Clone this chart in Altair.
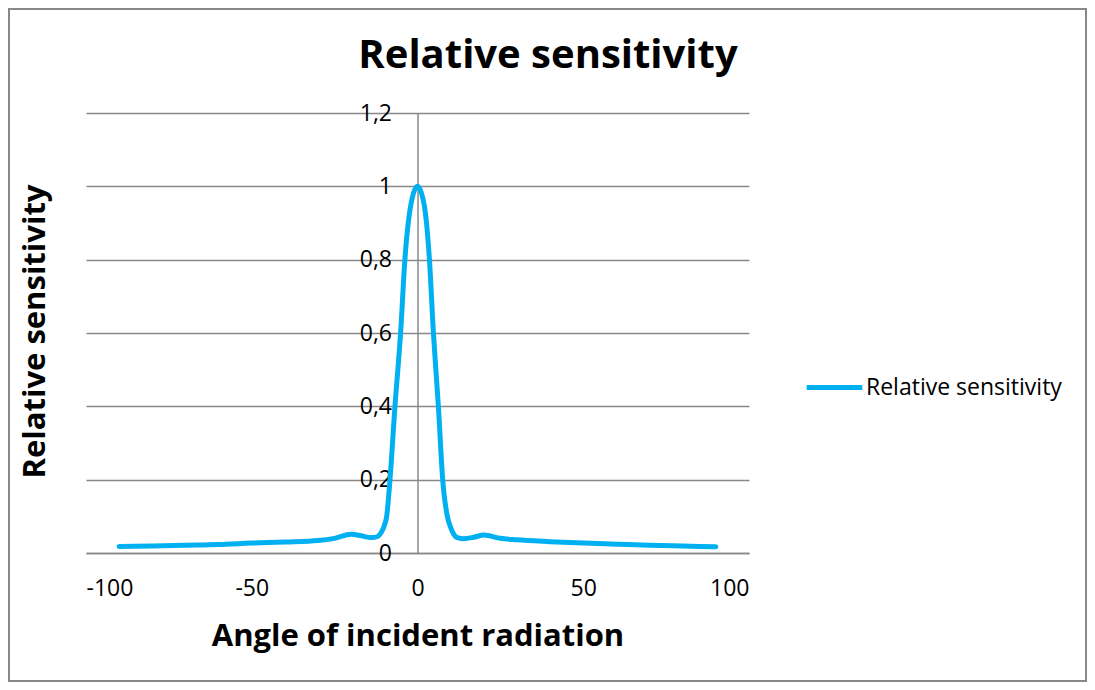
import altair as alt
import pandas as pd

angles = [-90, -80, -70, -60, -50, -40, -30, -25, -20, -17, -14, -12, -11, -10, -9.3, -8.3,
          -6.8, -5.1, -3.8, -2, 0, 2, 3.6, 4.8, 6.3, 7.6, 9.0, 10, 11, 12, 14, 17, 20, 25,
          30, 40, 50, 60, 70, 80, 90]
sensitivity = [0.018, 0.019, 0.021, 0.023, 0.027, 0.030, 0.034, 0.040, 0.051, 0.047, 0.042,
               0.045, 0.055, 0.075, 0.10, 0.20, 0.40, 0.60, 0.80, 0.95, 1.0, 0.95, 0.80, 0.60,
               0.40, 0.20, 0.10, 0.07, 0.05, 0.042, 0.039, 0.043, 0.049, 0.040, 0.036, 0.031,
               0.027, 0.024, 0.021, 0.019, 0.017]
series_name = "Relative sensitivity"
chart_title = "Relative sensitivity"
x_title = "Angle of incident radiation"
y_title = "Relative sensitivity"
x_ticks = [-100, -50, 0, 50, 100]
y_ticks = [0, 0.2, 0.4, 0.6, 0.8, 1.0, 1.2]

df = pd.DataFrame({"angle": angles, "value": sensitivity, "series": [series_name] * len(angles)})

FONT = "Open Sans"
W, H = 663, 440
PAD = {"left": 78, "top": 105, "right": 338, "bottom": 129}

line = alt.Chart(df).mark_line(strokeWidth=5, interpolate="monotone", strokeCap="round").encode(
    x=alt.X("angle:Q",
            scale=alt.Scale(domain=[-100, 100], nice=False, zero=False),
            axis=alt.Axis(values=x_ticks, title=x_title, grid=False,
                          labelExpr="'' + datum.value",
                          ticks=False, domainColor="#888888", domainWidth=1.5,
                          labelFontSize=23, labelPadding=24, labelColor="black",
                          titleFontSize=31, titleFontWeight="bold", titleColor="black",
                          titleBaseline="alphabetic", titleY=92, titlePadding=0)),
    y=alt.Y("value:Q",
            scale=alt.Scale(domain=[0, 1.2], nice=False),
            axis=alt.Axis(values=y_ticks, title=y_title, offset=-331.5,
                          labelExpr="replace(format(datum.value, '.1~f'), '.', ',')",
                          grid=True, gridColor="#888888", gridWidth=1.5,
                          ticks=False, domainColor="#888888", domainWidth=1.5,
                          labelFontSize=23, labelPadding=26, labelColor="black",
                          titleFontSize=31, titleFontWeight="bold", titleColor="black",
                          titleAngle=270, titleX=-382.5, titleY=218,
                          titleAlign="center", titleBaseline="middle")),
    color=alt.Color("series:N",
                    scale=alt.Scale(domain=[series_name], range=["#00B0F0"]),
                    legend=alt.Legend(title=None, orient="none", legendX=718, legendY=244,
                                      symbolType="stroke", symbolSize=3100,
                                      symbolStrokeWidth=5, labelFontSize=23, labelLimit=0,
                                      labelOffset=1, labelColor="black", padding=0)),
)

title_df = pd.DataFrame({"t": [chart_title]})
title = alt.Chart(title_df).mark_text(
    fontSize=40, fontWeight="bold", align="center", baseline="alphabetic", color="black"
).encode(text="t:N", x=alt.value(462), y=alt.value(-45))

border = alt.Chart(pd.DataFrame({"b": [0]})).mark_rect(
    fillOpacity=0, stroke="#888888", strokeWidth=2
).encode(x=alt.value(-77), x2=alt.value(1000), y=alt.value(-104), y2=alt.value(568))

chart = alt.layer(border, title, line).properties(
    width=W, height=H,
    padding=PAD,
    autosize=alt.AutoSizeParams(type="none"),
).configure(font=FONT).configure_view(stroke=None)

chart.save("out.html", embed_options={"renderer": "svg", "actions": False})
